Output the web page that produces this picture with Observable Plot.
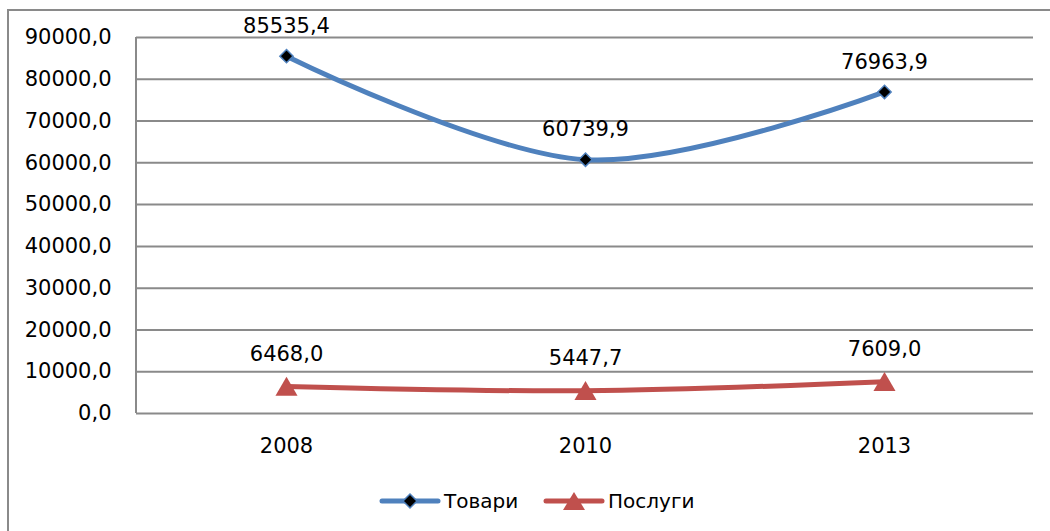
<!DOCTYPE html>
<html>
<head>
<meta charset="utf-8">
<script src="https://cdn.jsdelivr.net/npm/d3@7"></script>
<script src="https://cdn.jsdelivr.net/npm/@observablehq/plot@0.6"></script>
<style>
  html, body { margin: 0; padding: 0; background: #fff; color: #000; }
  body { width: 1050px; height: 531px; position: relative; overflow: hidden; font-family: "DejaVu Sans", sans-serif; }
  #frame { position: absolute; left: 7px; top: 9px; width: 1100px; height: 600px; border-left: 2px solid #8a8a8a; border-top: 2px solid #8a8a8a; }
  #chart { position: absolute; left: 0; top: 0; }
  #legend { position: absolute; left: 0; top: 487px; width: 1050px; height: 28px; }
  .item { position: absolute; top: 0; display: flex; align-items: center; font-size: 20px; }
  .item svg { display: block; }
</style>
</head>
<body>
<div id="frame"></div>
<div id="chart"></div>
<div id="legend"></div>
<script>
const years = ["2008", "2010", "2013"];
const tovary = [85535.4, 60739.9, 76963.9];
const posluhy = [6468.0, 5447.7, 7609.0];
const seriesNames = ["Товари", "Послуги"];
const yTicks = [0, 10000, 20000, 30000, 40000, 50000, 60000, 70000, 80000, 90000];

const blue = "#4F81BD";
const red = "#C0504D";
const grid = "#8a8a8a";

const fmt = d3.formatLocale({decimal: ",", thousands: "", grouping: [3], currency: ["", ""]}).format(".1f");

const dataT = years.map((y, i) => ({year: y, value: tovary[i]}));
const dataP = years.map((y, i) => ({year: y, value: posluhy[i]}));

const leftLine = (index, scales, values, dimensions) => {
  const g = d3.create("svg:line")
    .attr("x1", dimensions.marginLeft).attr("x2", dimensions.marginLeft)
    .attr("y1", dimensions.marginTop).attr("y2", dimensions.height - dimensions.marginBottom)
    .attr("stroke", grid).attr("stroke-width", 2);
  return g.node();
};

const chart = Plot.plot({
  width: 1050,
  height: 470,
  marginLeft: 136,
  marginRight: 17,
  marginTop: 37,
  marginBottom: 57,
  style: {fontFamily: "DejaVu Sans, sans-serif", fontSize: "21px", color: "#000", background: "transparent"},
  x: {type: "point", domain: years, padding: 0.5, label: null},
  y: {domain: [0, 90000], label: null},
  marks: [
    Plot.gridY(yTicks, {stroke: grid, strokeOpacity: 1, strokeWidth: 2}),
    leftLine,
    Plot.axisY(yTicks, {tickSize: 0, tickPadding: 25, tickFormat: fmt, fontSize: 21, label: null}),
    Plot.axisX({tickSize: 0, tickPadding: 25, fontSize: 21, label: null}),
    Plot.line(dataT, {x: "year", y: "value", stroke: blue, strokeWidth: 5, curve: "cardinal"}),
    Plot.line(dataP, {x: "year", y: "value", stroke: red, strokeWidth: 5, curve: "cardinal"}),
    Plot.dot(dataT, {x: "year", y: "value", symbol: "diamond2", r: 6, fill: "#000", stroke: blue, strokeWidth: 1.5}),
    Plot.dot(dataP, {x: "year", y: "value", symbol: "triangle", r: 8.2, dy: 3, fill: red, stroke: "none"}),
    Plot.text(dataT, {x: "year", y: "value", text: d => fmt(d.value), dy: -30, fontSize: 21, fill: "#000"}),
    Plot.text(dataP, {x: "year", y: "value", text: d => fmt(d.value), dy: -32, fontSize: 21, fill: "#000"})
  ]
});
document.getElementById("chart").appendChild(chart);

// Legend
const legend = d3.select("#legend");
const items = [
  {name: seriesNames[0], color: blue, symbol: "diamond", left: 379},
  {name: seriesNames[1], color: red, symbol: "triangle", left: 543}
];
items.forEach(it => {
  const div = legend.append("div").attr("class", "item").style("left", it.left + "px");
  const s = div.append("svg").attr("width", 62).attr("height", 28);
  s.append("line").attr("x1", 3).attr("x2", 59).attr("y1", 14).attr("y2", 14)
    .attr("stroke", it.color).attr("stroke-width", 5).attr("stroke-linecap", "round");
  if (it.symbol === "diamond") {
    s.append("path").attr("d", "M31,7 L38,14 L31,21 L24,14 Z").attr("fill", "#000").attr("stroke", it.color).attr("stroke-width", 1.5);
  } else {
    s.append("path").attr("d", "M31,5 L42,23 L20,23 Z").attr("fill", it.color);
  }
  div.append("span").text(it.name).style("margin-left", "3px");
});
</script>
</body>
</html>
